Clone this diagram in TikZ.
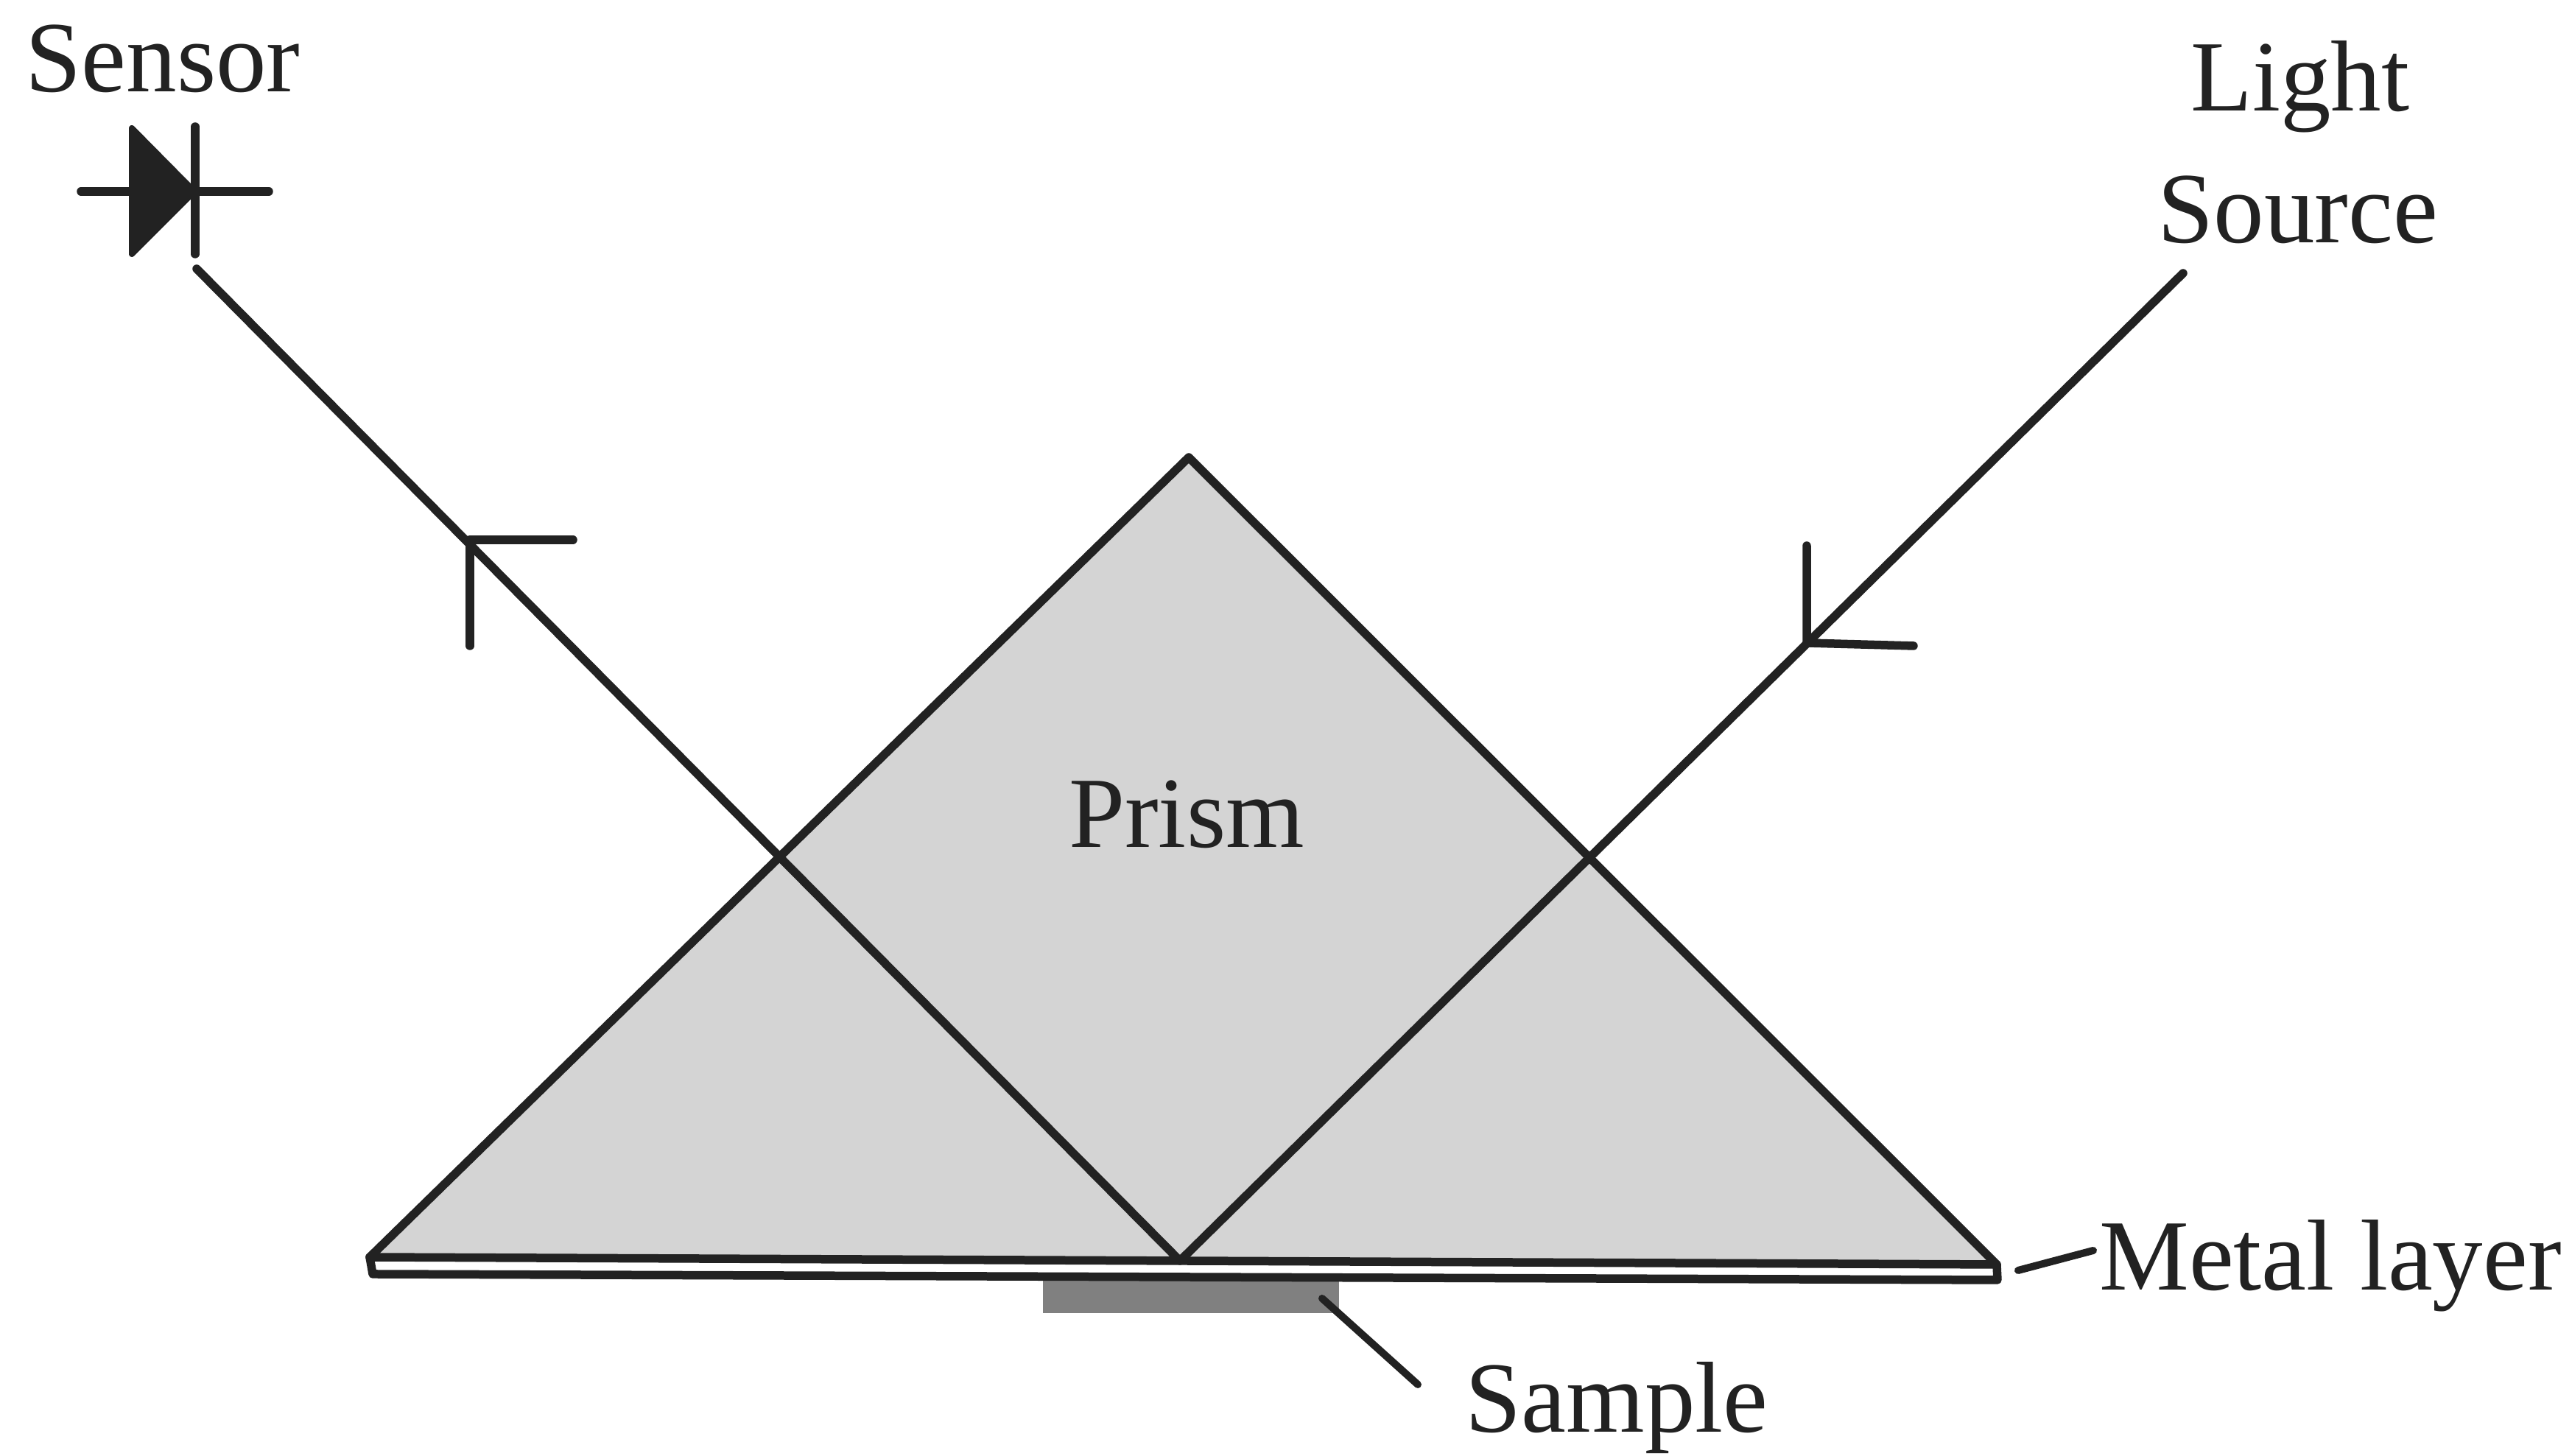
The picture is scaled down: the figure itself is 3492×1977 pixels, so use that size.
\documentclass[tikz,border=0pt]{standalone}
\usepackage{fontspec}
\setmainfont{Liberation Serif}
\definecolor{ink}{HTML}{222222}
\definecolor{prismgray}{HTML}{D4D4D4}
\definecolor{samplegray}{HTML}{808080}
\tikzset{
  lbl/.style={inner sep=0pt,anchor=base,text=ink,font=\fontsize{13.7pt}{13.7pt}\selectfont},
  ln/.style={draw=ink,line width=1.15pt,line cap=round,line join=round},
  thinln/.style={draw=ink,line width=1pt,line cap=round,line join=round}
}
\begin{document}
\begin{tikzpicture}[x=0.1pt,y=-0.1pt]
\useasboundingbox[fill=white] (0,0) rectangle (3492,1977);
% key points
\coordinate (apex) at (1614,621);
\coordinate (pl) at (502,1707);
\coordinate (pr) at (2711,1717);
\coordinate (ml) at (506,1730);
\coordinate (mr) at (2712,1738);
\coordinate (hit) at (1602,1712);
\coordinate (srcend) at (2964,371);
\coordinate (sensend) at (267,365);
\coordinate (arrL) at (638,733);
\coordinate (arrLa) at (778,733);
\coordinate (arrLb) at (638,877);
\coordinate (arrR) at (2453,873);
\coordinate (arrRa) at (2598,877);
\coordinate (arrRb) at (2453,741);
% sample
\fill[samplegray] (1416,1735) rectangle (1818,1783);
% prism
\fill[prismgray] (apex) -- (pl) -- (pr) -- cycle;
\draw[ln,fill=white] (pl) -- (ml) -- (mr) -- (pr) -- cycle;
\draw[ln] (pl) -- (apex) -- (pr);
% rays
\draw[ln] (srcend) -- (hit) -- (sensend);
\draw[ln] (arrRb) -- (arrR) -- (arrRa);
\draw[ln] (arrLa) -- (arrL) -- (arrLb);
% diode
\coordinate (dl) at (110,260);
\coordinate (dr) at (365,260);
\coordinate (ta) at (179,174);
\coordinate (tb) at (179,345);
\coordinate (tt) at (264,260);
\coordinate (ba) at (265,172);
\coordinate (bb) at (265,345);
\draw[ln] (dl) -- (dr);
\draw[ln] (ba) -- (bb);
\filldraw[ink,line width=0.8pt,line join=round] (ta) -- (tt) -- (tb) -- cycle;
% labels
\node[lbl] (sensor) at (221,125) {Sensor};
\node[lbl] (light) at (3123,151) {Light};
\node[lbl] (source) at (3120,330) {Source};
\node[lbl] (prism) at (1611,1151) {Prism};
\node[lbl] (metal) at (3164,1752) {Metal layer};
\node[lbl] (sample) at (2195,1945) {Sample};
% leaders
\coordinate (mlead) at (2740,1725);
\coordinate (mleadb) at (2842,1698);
\coordinate (slead) at (1795,1763);
\coordinate (sleadb) at (1925,1880);
\draw[thinln] (mlead) -- (mleadb);
\draw[thinln] (slead) -- (sleadb);
\end{tikzpicture}
\end{document}
